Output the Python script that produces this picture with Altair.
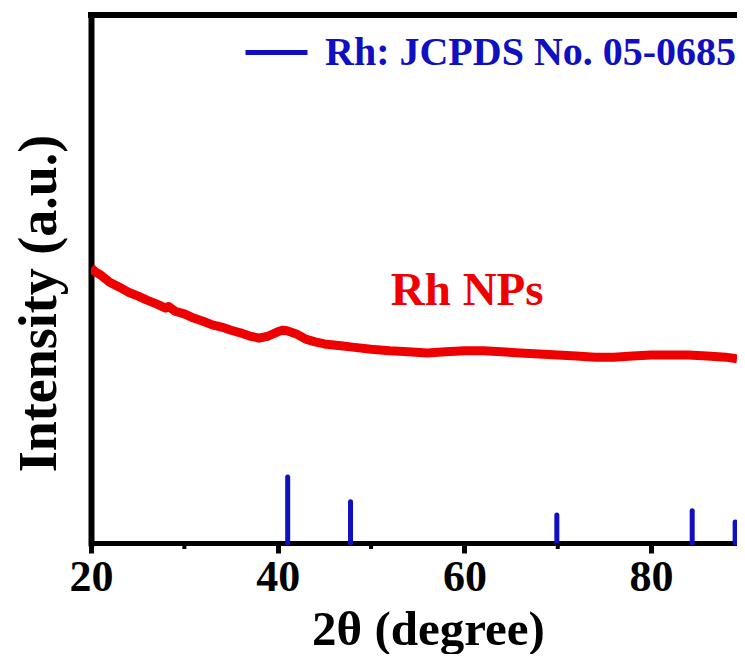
import altair as alt
import pandas as pd

# XRD curve of Rh NPs
theta = [20.0, 20.5, 21, 22, 23, 24, 25, 26, 27, 28, 28.3, 29, 30, 31, 32, 33, 34, 35, 36, 37, 38,
         39, 40, 40.5, 41, 42, 43, 44, 45, 46, 47, 48, 50, 52, 54, 56, 58, 60, 62, 64, 66,
         68, 70, 72, 74, 76, 78, 80, 82, 84, 86, 88, 89.2]
intensity = [52.1, 51.3, 50.8, 49.4, 48.5, 47.5, 46.8, 46.0, 45.3, 44.5, 44.8, 43.9, 43.4, 42.6, 42.0,
             41.3, 40.9, 40.3, 39.8, 39.2, 38.8, 39.2, 40.0, 40.3, 40.2, 39.6, 38.6, 38.1, 37.7,
             37.5, 37.3, 37.1, 36.7, 36.4, 36.2, 36.0, 36.2, 36.4, 36.4, 36.2, 36.0, 35.8, 35.6,
             35.4, 35.2, 35.2, 35.4, 35.6, 35.6, 35.6, 35.4, 35.2, 34.9]

# JCPDS No. 05-0685 reference lines
ref_pos = [41.07, 47.8, 69.9, 84.4, 89.0]
ref_h = [12.5, 7.8, 5.3, 6.1, 4.0]
ref_label = "Rh: JCPDS No. 05-0685"

major_ticks = [20, 40, 60, 80]
minor_ticks = [30, 50, 70]

RED = "#EE0000"
BLUE = "#1010C0"
FONT = "Liberation Serif"
W, H = 646, 528

curve = pd.DataFrame({"theta": theta, "intensity": intensity})
refs = pd.DataFrame({"theta": ref_pos, "h": ref_h, "series": [ref_label] * len(ref_pos)})
minors = pd.DataFrame({"theta": minor_ticks})
label_df = pd.DataFrame({"theta": [60.3], "intensity": [45.1], "text": ["Rh NPs"]})

xscale = alt.Scale(domain=[20, 89.2], nice=False, zero=False)
yscale = alt.Scale(domain=[0, 100], nice=False)

xaxis = alt.Axis(values=major_ticks, title="2θ (degree)", format="d", grid=False,
                 tickSize=10, tickWidth=5, tickColor="black", domainWidth=5, domainColor="black",
                 domainCap="square",
                 labelFont=FONT, labelFontSize=44, labelFontWeight="bold", labelColor="black",
                 labelPadding=2, labelFlush=False, labelOverlap=False,
                 titleFont=FONT, titleFontSize=49, titleFontWeight="bold", titleColor="black",
                 titleX=337, titleY=101, titleBaseline="alphabetic", titleAlign="center")
yaxis = alt.Axis(labels=False, ticks=False, grid=False, title="Intensity (a.u.)",
                 domainWidth=6, domainColor="black", domainCap="square",
                 titleFont=FONT, titleFontSize=54, titleFontWeight="bold", titleColor="black",
                 titleAngle=270, titleX=-52, titleY=288, titleBaseline="middle", titleAlign="center")

line = alt.Chart(curve).mark_line(color=RED, strokeWidth=9, strokeJoin="round", clip=True).encode(
    x=alt.X("theta:Q", scale=xscale, axis=xaxis),
    y=alt.Y("intensity:Q", scale=yscale, axis=yaxis),
)

bars = alt.Chart(refs).mark_rule(strokeWidth=5, strokeCap="round").encode(
    x=alt.X("theta:Q", scale=xscale),
    y=alt.Y("h:Q", scale=yscale),
    y2=alt.datum(0),
    color=alt.Color("series:N", scale=alt.Scale(domain=[ref_label], range=[BLUE]),
                    legend=alt.Legend(title=None, orient="none", legendX=152, legendY=4,
                                      symbolType="stroke", symbolSize=3844, symbolStrokeWidth=5,
                                      symbolStrokeColor=BLUE, labelOffset=15, padding=0,
                                      labelFont=FONT, labelFontSize=40, labelFontWeight="bold",
                                      labelColor=BLUE, labelLimit=600)),
)

minor = alt.Chart(minors).mark_rule(color="black", strokeWidth=4).encode(
    x=alt.X("theta:Q", scale=xscale),
    y=alt.value(H),
    y2=alt.value(H + 6),
)

top = alt.Chart(curve).mark_rule(color="black", strokeWidth=6).encode(
    x=alt.value(-3), x2=alt.value(W), y=alt.value(0)
)

txt = alt.Chart(label_df).mark_text(font=FONT, fontSize=47, fontWeight="bold", color=RED,
                                    baseline="alphabetic", align="center").encode(
    x=alt.X("theta:Q", scale=xscale),
    y=alt.Y("intensity:Q", scale=yscale),
    text="text:N",
)

chart = alt.layer(line, bars, minor, top, txt).properties(
    width=W, height=H,
    autosize=alt.AutoSizeParams(type="none"),
    padding={"left": 83, "top": 7, "right": 0, "bottom": 111},
).configure_view(stroke=None)

chart.save("out.html", embed_options={"renderer": "svg", "actions": False})
